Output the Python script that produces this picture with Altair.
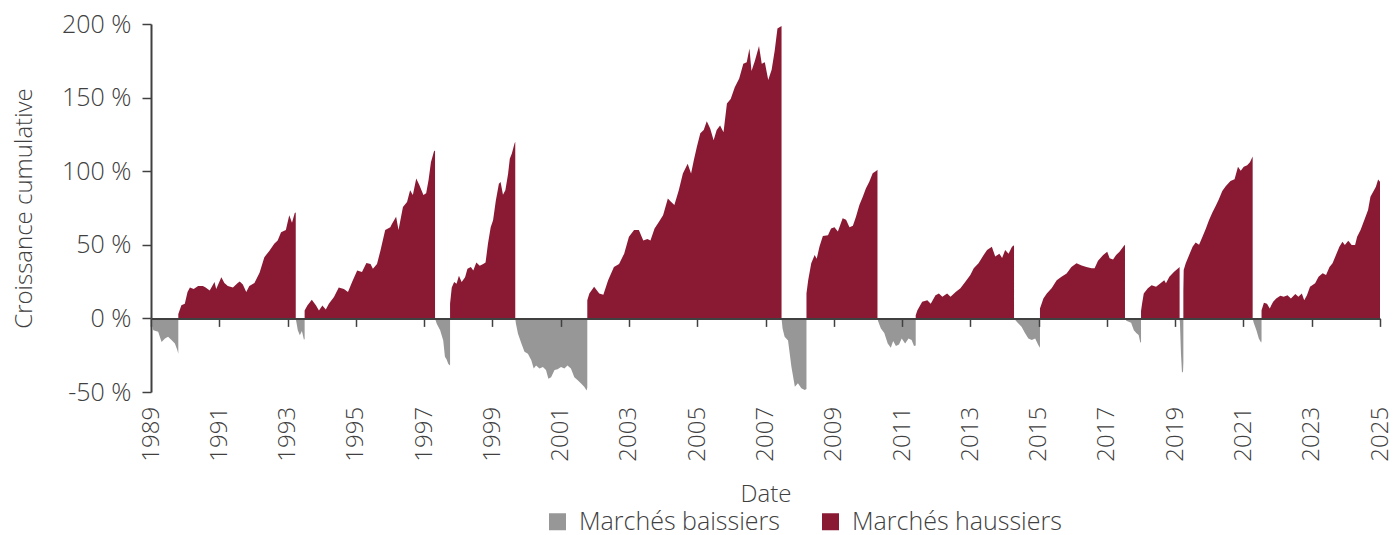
import altair as alt
import pandas as pd

BEAR = "Marchés baissiers"
BULL = "Marchés haussiers"
GREY = "#979797"
RED = "#8A1A34"
TXT = "#404040"
FONT = "Open Sans"

# (year, cumulative growth in %) for each market phase
bear_1 = [(1989.0, 0), (1989.02, -5), (1989.07, -8), (1989.21, -9), (1989.28, -14), (1989.31, -16),
          (1989.41, -13.6), (1989.5, -12.5), (1989.6, -14.7), (1989.7, -17), (1989.77, -21.5), (1989.8, -24)]
bull_1 = [(1989.8, 3), (1989.89, 9), (1989.99, 10), (1990.07, 18), (1990.14, 21), (1990.25, 20),
          (1990.38, 22), (1990.52, 22), (1990.6, 21), (1990.72, 19), (1990.86, 24.7), (1990.91, 20),
          (1991.06, 28), (1991.15, 24), (1991.25, 22), (1991.4, 21), (1991.54, 24), (1991.6, 25),
          (1991.69, 23), (1991.79, 18), (1991.88, 22), (1992.03, 24), (1992.18, 31), (1992.32, 41.6),
          (1992.47, 46), (1992.61, 50.7), (1992.71, 53), (1992.81, 58.6), (1992.95, 60), (1993.05, 70),
          (1993.13, 65), (1993.21, 71.6), (1993.24, 72)]
bear_2 = [(1993.24, 0), (1993.3, -8), (1993.36, -11.5), (1993.42, -8.5), (1993.48, -14.5), (1993.5, -14)]
bull_2 = [(1993.5, 5.4), (1993.58, 8.7), (1993.71, 12.7), (1993.83, 9), (1993.92, 5.4), (1994.02, 8.7),
          (1994.12, 6), (1994.21, 10), (1994.36, 14.5), (1994.5, 21), (1994.65, 20), (1994.77, 18),
          (1994.89, 24.7), (1995.04, 32.6), (1995.18, 31.5), (1995.31, 37.6), (1995.43, 37), (1995.5, 33.7),
          (1995.62, 37), (1995.72, 46), (1995.86, 60), (1996.01, 62), (1996.06, 64.3), (1996.18, 69),
          (1996.25, 60), (1996.38, 75.6), (1996.5, 79), (1996.59, 87), (1996.67, 83.8), (1996.77, 95),
          (1996.86, 90.6), (1996.98, 83.8), (1997.06, 85), (1997.13, 94), (1997.2, 106), (1997.29, 113.5),
          (1997.32, 114)]
bear_3 = [(1997.32, 0), (1997.37, -3.6), (1997.47, -8), (1997.56, -15), (1997.61, -26), (1997.66, -28),
          (1997.71, -31), (1997.76, -32)]
bull_3 = [(1997.76, 10), (1997.81, 21), (1997.88, 24.7), (1997.95, 23.5), (1998.02, 29), (1998.1, 24.7),
          (1998.2, 28), (1998.27, 33.7), (1998.37, 35), (1998.44, 32.6), (1998.53, 38), (1998.63, 35.7),
          (1998.73, 37), (1998.8, 38), (1998.87, 50.7), (1998.95, 62), (1999.02, 66.6), (1999.1, 80),
          (1999.19, 91.5), (1999.24, 92.6), (1999.31, 84), (1999.38, 87), (1999.46, 98.3), (1999.51, 108.5),
          (1999.57, 112), (1999.65, 119), (1999.67, 120)]
bear_4 = [(1999.67, 0), (1999.69, -3.6), (1999.75, -10.4), (1999.85, -17), (1999.94, -22.7), (2000.04, -24),
          (2000.14, -28.5), (2000.21, -34), (2000.28, -32), (2000.38, -34), (2000.48, -33), (2000.57, -35),
          (2000.64, -41), (2000.72, -40), (2000.82, -35), (2000.91, -34.5), (2001.01, -33), (2001.11, -34),
          (2001.2, -32), (2001.3, -34), (2001.4, -40), (2001.5, -42), (2001.59, -44), (2001.69, -46.5),
          (2001.76, -49), (2001.78, -47)]
bull_4 = [(2001.78, 12.4), (2001.84, 17), (2001.98, 21.5), (2002.13, 17), (2002.25, 16), (2002.39, 26),
          (2002.56, 35), (2002.71, 37), (2002.86, 44), (2003.0, 55.4), (2003.15, 60), (2003.29, 60),
          (2003.42, 53), (2003.54, 54), (2003.63, 53), (2003.75, 61), (2003.88, 65.6), (2004.0, 70),
          (2004.14, 81.5), (2004.23, 79.3), (2004.33, 77), (2004.46, 87), (2004.58, 98.5), (2004.72, 105),
          (2004.82, 98.5), (2004.9, 107.5), (2004.99, 116.6), (2005.09, 125.7), (2005.19, 128), (2005.28, 134),
          (2005.38, 129), (2005.48, 121), (2005.57, 128), (2005.67, 131), (2005.77, 126.5), (2005.87, 146),
          (2005.98, 149), (2006.1, 157), (2006.23, 163), (2006.35, 173), (2006.45, 174), (2006.53, 183.4),
          (2006.59, 168), (2006.69, 175), (2006.81, 185), (2006.89, 173), (2006.98, 174), (2007.08, 162),
          (2007.18, 169), (2007.27, 182), (2007.35, 197), (2007.47, 198.6)]
bear_5 = [(2007.47, 0), (2007.5, -6.8), (2007.56, -12.5), (2007.66, -15), (2007.76, -33), (2007.86, -46.5),
          (2007.95, -44), (2008.05, -47.5), (2008.15, -48.7), (2008.2, -48)]
bull_5 = [(2008.2, 17), (2008.25, 26), (2008.34, 37.4), (2008.44, 43), (2008.5, 40.5), (2008.58, 48.6),
          (2008.68, 56), (2008.83, 56.5), (2008.92, 61), (2009.02, 62), (2009.12, 59), (2009.26, 68),
          (2009.36, 67), (2009.46, 62), (2009.56, 63), (2009.65, 69), (2009.75, 77), (2009.85, 82.6),
          (2009.94, 88.3), (2010.04, 92.8), (2010.14, 98.6), (2010.25, 100.3), (2010.28, 101)]
bear_6 = [(2010.28, 0), (2010.3, -2), (2010.38, -6.8), (2010.48, -10), (2010.58, -17), (2010.67, -20),
          (2010.74, -15.4), (2010.82, -18.8), (2010.91, -17.7), (2010.99, -13.6), (2011.09, -17),
          (2011.19, -13.6), (2011.28, -14.7), (2011.35, -18.8), (2011.4, -18.4)]
bull_6 = [(2011.4, 2.2), (2011.45, 5.6), (2011.59, 11.3), (2011.74, 12.4), (2011.84, 10), (2011.98, 15.8),
          (2012.08, 17), (2012.18, 14.7), (2012.32, 17), (2012.42, 14.7), (2012.57, 18), (2012.71, 20.4),
          (2012.86, 25), (2013.0, 29.4), (2013.1, 34), (2013.24, 37.4), (2013.39, 43), (2013.49, 46.4),
          (2013.63, 48.6), (2013.73, 42), (2013.85, 44), (2013.93, 41), (2014.02, 46.4), (2014.12, 44),
          (2014.22, 48.6), (2014.28, 49.7)]
bear_7 = [(2014.28, 0), (2014.36, -2.3), (2014.5, -5.7), (2014.6, -10), (2014.7, -13.6), (2014.8, -14.7),
          (2014.9, -13.6), (2014.99, -18), (2015.04, -20)]
bull_7 = [(2015.04, 6.8), (2015.14, 13.6), (2015.24, 17), (2015.38, 20.4), (2015.53, 26), (2015.67, 28.3),
          (2015.82, 30.5), (2015.96, 35), (2016.11, 37.4), (2016.26, 36), (2016.4, 35), (2016.55, 34),
          (2016.64, 34), (2016.74, 39.2), (2016.89, 43), (2017.01, 45.3), (2017.08, 40.8), (2017.18, 40),
          (2017.27, 43), (2017.37, 45.3), (2017.5, 49.4), (2017.53, 50)]
bear_8 = [(2017.53, 0), (2017.57, -1.6), (2017.71, -3), (2017.79, -8), (2017.86, -10), (2017.93, -11.3),
          (2017.98, -16.5), (2018.0, -16)]
bull_8 = [(2018.0, 5), (2018.03, 10), (2018.08, 17), (2018.2, 20.4), (2018.31, 22.6), (2018.44, 21.5),
          (2018.57, 23.8), (2018.68, 26), (2018.73, 23.8), (2018.83, 28.3), (2018.97, 31.7), (2019.09, 34),
          (2019.13, 35)]
bear_9 = [(2019.13, 0), (2019.14, -3), (2019.17, -24), (2019.2, -37), (2019.23, -36), (2019.24, -30)]
bull_9 = [(2019.24, 19), (2019.25, 32.8), (2019.31, 37.4), (2019.41, 43), (2019.51, 48.7), (2019.6, 51.5),
          (2019.7, 50), (2019.8, 55.5), (2019.9, 61), (2019.99, 66.6), (2020.09, 72), (2020.19, 76.6),
          (2020.28, 81), (2020.38, 86.5), (2020.48, 89.8), (2020.62, 93.3), (2020.74, 94.5), (2020.84, 103),
          (2020.92, 100.3), (2021.01, 103), (2021.11, 104), (2021.19, 106), (2021.26, 109.4), (2021.27, 110)]
bear_10 = [(2021.27, 0), (2021.3, -3), (2021.38, -8), (2021.45, -13.6), (2021.52, -16.5), (2021.53, -15)]
bull_10 = [(2021.53, 5.6), (2021.6, 10.6), (2021.69, 10), (2021.77, 6.8), (2021.87, 11.3), (2021.96, 13.6),
           (2022.08, 15.4), (2022.18, 14.7), (2022.29, 15.8), (2022.39, 13.6), (2022.52, 16.5), (2022.61, 14.7),
           (2022.71, 17), (2022.78, 12.4), (2022.86, 15.8), (2022.95, 21.5), (2023.1, 23.8), (2023.2, 28.3),
           (2023.32, 30.6), (2023.42, 29.4), (2023.52, 35), (2023.61, 37.4), (2023.71, 43), (2023.81, 48.7),
           (2023.9, 52), (2023.97, 49.8), (2024.07, 52.7), (2024.17, 49.8), (2024.27, 49.8), (2024.33, 55.5),
           (2024.43, 60), (2024.56, 68), (2024.65, 73.6), (2024.72, 82.6), (2024.8, 86), (2024.88, 89.4),
           (2024.945, 94.4), (2025.0, 92.8)]

segments = [
    (BEAR, bear_1), (BULL, bull_1), (BEAR, bear_2), (BULL, bull_2), (BEAR, bear_3), (BULL, bull_3),
    (BEAR, bear_4), (BULL, bull_4), (BEAR, bear_5), (BULL, bull_5), (BEAR, bear_6), (BULL, bull_6),
    (BEAR, bear_7), (BULL, bull_7), (BEAR, bear_8), (BULL, bull_8), (BEAR, bear_9), (BULL, bull_9),
    (BEAR, bear_10), (BULL, bull_10),
]

year_ticks = list(range(1989, 2026, 2))
y_ticks = [-50, 0, 50, 100, 150, 200]

rows = []
for i, (kind, pts) in enumerate(segments):
    for yr, v in pts:
        rows.append({"annee": yr, "croissance": v, "marche": kind, "segment": i})
df = pd.DataFrame(rows)

W = 1229
H = 368
ZERO_OFFSET = -H * 50 / 250  # puts the x axis line on the 0 % level

chart = alt.Chart(df).mark_area(interpolate="linear", opacity=1).encode(
    x=alt.X("annee:Q",
            scale=alt.Scale(domain=[1989, 2025], nice=False, zero=False),
            axis=alt.Axis(title="Date", values=year_ticks, format="d", labelAngle=270,
                          offset=ZERO_OFFSET, labelPadding=80, tickSize=8, tickWidth=1.5,
                          tickColor=TXT, domainColor=TXT, domainWidth=2, labelFlush=False,
                          labelOverlap=False, labelBound=False, grid=False, zindex=1,
                          labelFontSize=24, titlePadding=21)),
    y=alt.Y("croissance:Q", stack=None,
            scale=alt.Scale(domain=[-50, 200], nice=False),
            axis=alt.Axis(title="Croissance cumulative", values=y_ticks,
                          labelExpr="datum.value + ' %'", tickSize=9, tickWidth=1.5,
                          tickColor=TXT, domainColor=TXT, domainWidth=2, labelPadding=11,
                          labelFlush=False, grid=False, labelFontSize=25, titlePadding=25)),
    color=alt.Color("marche:N",
                    scale=alt.Scale(domain=[BEAR, BULL], range=[GREY, RED]),
                    legend=alt.Legend(title=None, orient="none", legendX=394, legendY=485,
                                      direction="horizontal", symbolType="square", symbolSize=289,
                                      symbolStrokeWidth=0, labelFontSize=25, labelFont=FONT,
                                      labelColor=TXT, labelFontWeight=300, columnPadding=38,
                                      labelOffset=9, labelLimit=500)),
    detail="segment:N",
).properties(
    width=W, height=H,
    autosize=alt.AutoSizeParams(type="none"),
    padding={"left": 143, "top": 16, "right": 9, "bottom": 143},
).configure_view(stroke=None).configure_axis(
    labelFont=FONT, titleFont=FONT, titleFontSize=24,
    labelColor=TXT, titleColor=TXT, labelFontWeight=300, titleFontWeight=300,
)

chart.save("out.html", embed_options={"renderer": "svg", "actions": False})
